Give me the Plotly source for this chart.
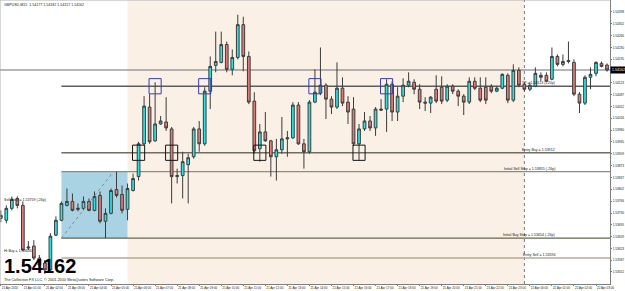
import plotly.graph_objects as go

# ---------------- data ----------------
opens = [1.53714,1.53708,1.53744,1.53774,1.53753,1.53624,1.53630,1.53594,1.53579,1.53558,
         1.53663,1.53708,1.53753,1.53765,1.53741,1.53744,1.53765,1.53738,1.53783,1.53705,
         1.53729,1.53801,1.53786,1.53741,1.53798,1.53840,1.53939,1.54050,1.53948,1.53999,
         1.54005,1.53984,1.53840,1.53843,1.53876,1.53900,1.53984,1.53939,1.54098,1.54176,
         1.54185,1.54239,1.54164,1.54200,1.54299,1.54203,1.54068,1.53924,1.53975,1.53948,
         1.53900,1.53921,1.53954,1.53957,1.54056,1.53939,1.53915,1.54065,1.54092,1.54116,
         1.54074,1.54050,1.54107,1.54065,1.54044,1.53939,1.53984,1.54008,1.53987,1.54044,
         1.54044,1.54119,1.54035,1.54083,1.54116,1.54125,1.54104,1.54065,1.54062,1.54104,
         1.54110,1.54071,1.54113,1.54098,1.54083,1.54065,1.54128,1.54107,1.54110,1.54113,
         1.54098,1.54107,1.54146,1.54071,1.54161,1.54119,1.54104,1.54113,1.54146,1.54146,
         1.54134,1.54203,1.54179,1.54191,1.54185,1.54089,1.54062,1.54140,1.54152,1.54182,
         1.54177]
highs = [1.53738,1.53753,1.53780,1.53780,1.53765,1.53645,1.53648,1.53603,1.53588,1.53669,
         1.53720,1.53765,1.53804,1.53789,1.53759,1.53780,1.53774,1.53795,1.53795,1.53744,
         1.53804,1.53855,1.53813,1.53819,1.53849,1.53945,1.54083,1.54089,1.54125,1.54023,
         1.54080,1.53990,1.53864,1.53915,1.53909,1.53990,1.54008,1.54110,1.54203,1.54278,
         1.54278,1.54248,1.54224,1.54329,1.54323,1.54218,1.54095,1.53999,1.54035,1.53951,
         1.53954,1.54020,1.53978,1.54065,1.54065,1.53954,1.54071,1.54164,1.54230,1.54122,
         1.54083,1.54185,1.54140,1.54083,1.54080,1.53999,1.54035,1.54023,1.54050,1.54074,
         1.54134,1.54128,1.54110,1.54137,1.54155,1.54134,1.54119,1.54080,1.54083,1.54146,
         1.54143,1.54119,1.54119,1.54104,1.54089,1.54140,1.54140,1.54140,1.54140,1.54119,
         1.54113,1.54152,1.54152,1.54179,1.54170,1.54125,1.54125,1.54170,1.54155,1.54155,
         1.54230,1.54209,1.54209,1.54248,1.54194,1.54095,1.54146,1.54170,1.54188,1.54188,
         1.54182]
lows = [1.53702,1.53699,1.53738,1.53744,1.53615,1.53618,1.53588,1.53564,1.53546,1.53549,
        1.53660,1.53705,1.53750,1.53735,1.53735,1.53738,1.53735,1.53735,1.53699,1.53654,
        1.53726,1.53777,1.53729,1.53708,1.53795,1.53828,1.53933,1.53939,1.53945,1.53996,
        1.53978,1.53759,1.53819,1.53774,1.53759,1.53894,1.53915,1.53933,1.54044,1.54155,
        1.54182,1.54155,1.54146,1.54194,1.54158,1.54059,1.53909,1.53885,1.53945,1.53840,
        1.53828,1.53909,1.53900,1.53954,1.53936,1.53864,1.53909,1.54062,1.54086,1.54014,
        1.54029,1.54044,1.54053,1.53999,1.53933,1.53888,1.53978,1.53978,1.53963,1.54038,
        1.53975,1.54008,1.54008,1.54065,1.54110,1.54089,1.54044,1.54038,1.54032,1.54062,
        1.54059,1.54065,1.54089,1.54053,1.54026,1.54059,1.54101,1.54065,1.54059,1.54092,
        1.54095,1.54104,1.54062,1.54065,1.54110,1.54098,1.54098,1.54110,1.54128,1.54125,
        1.54131,1.54173,1.54173,1.54182,1.54083,1.54032,1.54056,1.54104,1.54143,1.54170,
        1.54157]
closes = [1.53723,1.53744,1.53771,1.53753,1.53618,1.53627,1.53594,1.53573,1.53558,1.53660,
          1.53708,1.53759,1.53765,1.53738,1.53744,1.53765,1.53738,1.53780,1.53705,1.53729,
          1.53798,1.53783,1.53738,1.53804,1.53834,1.53939,1.54053,1.53945,1.53999,1.54008,
          1.53987,1.53840,1.53843,1.53885,1.53897,1.53984,1.53939,1.54098,1.54173,1.54188,
          1.54239,1.54164,1.54200,1.54299,1.54203,1.54065,1.53918,1.53975,1.53948,1.53900,
          1.53921,1.53954,1.53957,1.54056,1.53939,1.53915,1.54065,1.54095,1.54116,1.54074,
          1.54050,1.54107,1.54062,1.54035,1.53939,1.53984,1.54008,1.53987,1.54044,1.54041,
          1.54119,1.54035,1.54083,1.54116,1.54128,1.54104,1.54065,1.54062,1.54080,1.54068,
          1.54068,1.54113,1.54098,1.54083,1.54065,1.54128,1.54107,1.54071,1.54071,1.54098,
          1.54107,1.54149,1.54071,1.54161,1.54116,1.54104,1.54116,1.54152,1.54140,1.54128,
          1.54203,1.54179,1.54188,1.54188,1.54089,1.54062,1.54140,1.54149,1.54185,1.54173,
          1.54162]
bars = list(range(len(opens)))

time_tick_bars = [0, 4, 8, 12, 16, 20, 24, 28, 32, 36, 40, 44, 48, 52, 56, 60, 64, 68,
                  72, 76, 80, 84, 88, 92, 96, 100, 104, 108]
time_tick_labels = ["21 Apr 2010", "21 Apr 01:00", "21 Apr 02:00", "21 Apr 03:00", "21 Apr 04:00",
                    "21 Apr 05:00", "21 Apr 06:00", "21 Apr 07:00", "21 Apr 08:00", "21 Apr 09:00",
                    "21 Apr 10:00", "21 Apr 11:00", "21 Apr 12:00", "21 Apr 13:00", "21 Apr 14:00",
                    "21 Apr 15:00", "21 Apr 16:00", "21 Apr 17:00", "21 Apr 18:00", "21 Apr 19:00",
                    "21 Apr 20:00", "21 Apr 21:00", "21 Apr 22:00", "21 Apr 23:00", "22 Apr 00:00",
                    "22 Apr 01:00", "22 Apr 02:00", "22 Apr 03:00"]

price_ticks = [1.54338, 1.54302, 1.54266, 1.54230, 1.54195, 1.54123, 1.54087, 1.54052,
               1.54016, 1.53980, 1.53945, 1.53909, 1.53873, 1.53837, 1.53802, 1.53766,
               1.53730, 1.53695, 1.53659, 1.53623, 1.53587, 1.53552]

bid_price = 1.54162
level_prices = [1.54113, 1.53912, 1.53855, 1.53654, 1.53594]
level_labels = ["TP = 1.54113 (+20p)", "Entry Buy = 1.53912", "Initial Sell Stop = 1.53855 (-26p)",
                "Initial Buy Stop = 1.53654 (-26p)", "Entry Sell = 1.53594"]
level_colors = ["#5c5c5c", "#6e6e60", "#8c8c84", "#66664f", "#b9aa96"]
level_start_bar = 11
label_end_bar = 101

range_box_bars = [11, 23]
range_box_prices = [1.53654, 1.53855]
session_bars = [23, 95]
trend_bars = [11, 20.3]
trend_prices = [1.53654, 1.53852]

tp_hit_bars = [28, 37, 57, 70]
entry_hit_bars = [25, 31, 47, 65]

left_label_prices = [1.53759, 1.53606]
left_label_texts = ["Sell Stop = 1.53759 (-26p)", "Hi Buy = 1.53606"]

symbol_title = "GBPUSD,M15"
copyright_text = "The Collective FX LLC, \u00a9 2001-2010 MetaQuotes Software Corp."

# ---------------- figure ----------------
x_lo, x_hi = -0.145, 110.54
y_lo, y_hi = 1.535155, 1.543735
FONT = "Liberation Sans, Arial, sans-serif"

fig = go.Figure()
fig.add_trace(go.Candlestick(
    x=bars, open=opens, high=highs, low=lows, close=closes,
    increasing=dict(fillcolor="#26E6E6", line=dict(color="#3c3c3c", width=1)),
    decreasing=dict(fillcolor="#E07C78", line=dict(color="#3c3c3c", width=1)),
    whiskerwidth=0, hoverinfo="skip", showlegend=False,
))

fig.add_trace(go.Scatter(x=trend_bars, y=trend_prices, mode="lines",
                         line=dict(color="#8a8a8a", width=1, dash="dot"),
                         hoverinfo="skip", showlegend=False))

shapes = []
shapes.append(dict(type="rect", xref="x", yref="paper", x0=session_bars[0], x1=session_bars[1],
                   y0=0, y1=1, fillcolor="#FAF0E6", line=dict(width=0), layer="below"))
shapes.append(dict(type="rect", xref="x", yref="y", x0=range_box_bars[0], x1=range_box_bars[1],
                   y0=range_box_prices[0], y1=range_box_prices[1], fillcolor="#A9D3E3",
                   line=dict(width=0), layer="below"))
shapes.append(dict(type="line", xref="x", yref="paper", x0=session_bars[1], x1=session_bars[1],
                   y0=0, y1=1, line=dict(color="#7a7a7a", width=1, dash="dot"), layer="below"))
shapes.append(dict(type="line", xref="paper", yref="y", x0=0, x1=1, y0=bid_price, y1=bid_price,
                   line=dict(color="#6e6e6e", width=1), layer="below"))
for p, c in zip(level_prices, level_colors):
    shapes.append(dict(type="line", xref="x", yref="y", x0=level_start_bar, x1=x_hi, y0=p, y1=p,
                       line=dict(color=c, width=1.3), layer="below"))
half_w, half_h = 1.1, 0.00023
for b in tp_hit_bars:
    shapes.append(dict(type="rect", xref="x", yref="y", x0=b - half_w, x1=b + half_w,
                       y0=level_prices[0] - half_h, y1=level_prices[0] + half_h,
                       line=dict(color="#3b3bb0", width=1)))
for b in entry_hit_bars:
    shapes.append(dict(type="rect", xref="x", yref="y", x0=b - half_w, x1=b + half_w,
                       y0=level_prices[1] - half_h, y1=level_prices[1] + half_h,
                       line=dict(color="#151515", width=1)))
shapes.append(dict(type="line", xref="paper", yref="paper", x0=0, x1=1, y0=1, y1=1,
                   line=dict(color="#b0b0b0", width=1)))
shapes.append(dict(type="line", xref="paper", yref="paper", x0=0, x1=0, y0=0, y1=1,
                   line=dict(color="#b0b0b0", width=1)))

small = dict(family=FONT, size=3.6, color="#202020")
annotations = []
for p, t in zip(level_prices, level_labels):
    annotations.append(dict(x=label_end_bar, y=p, xref="x", yref="y", text=t, showarrow=False,
                            xanchor="right", yanchor="bottom", font=small, yshift=-1))
for p, t in zip(left_label_prices, left_label_texts):
    annotations.append(dict(x=0.004, y=p, xref="paper", yref="y", text=t, showarrow=False,
                            xanchor="left", yanchor="bottom", font=small, yshift=-1))
title_text = "%s  %.5f %.5f %.5f %.5f" % (symbol_title, opens[-1], highs[-1], lows[-1], closes[-1])
annotations.append(dict(x=0.004, y=0.995, xref="paper", yref="paper", text=title_text,
                        showarrow=False, xanchor="left", yanchor="top", font=small))
annotations.append(dict(x=1, y=bid_price, xref="paper", yref="y", text="%.5f" % bid_price,
                        showarrow=False, xanchor="left", yanchor="middle", bgcolor="#000000",
                        font=dict(family=FONT, size=3.6, color="#ffffff"), borderpad=1))
annotations.append(dict(x=0.003, y=0.064, xref="paper", yref="paper", text="<b>%.5f</b>" % closes[-1],
                        showarrow=False, xanchor="left", yanchor="middle",
                        font=dict(family=FONT, size=20, color="#000000")))
annotations.append(dict(x=0.004, y=0.0, xref="paper", yref="paper", text=copyright_text,
                        showarrow=False, xanchor="left", yanchor="bottom",
                        font=dict(family=FONT, size=3.8, color="#202020")))

fig.update_layout(
    width=625, height=291,
    margin=dict(l=0, r=15, t=0, b=7),
    paper_bgcolor="#ffffff", plot_bgcolor="#ffffff",
    shapes=shapes, annotations=annotations,
    showlegend=False,
    xaxis=dict(range=[x_lo, x_hi], rangeslider=dict(visible=False), showgrid=False, zeroline=False,
               tickvals=time_tick_bars, ticktext=time_tick_labels, ticks="outside", ticklen=1,
               tickcolor="#808080", ticklabelposition="outside right", tickangle=0,
               tickfont=dict(family=FONT, size=3.0, color="#202020"),
               showline=True, linecolor="#808080", linewidth=1, automargin=False, fixedrange=True),
    yaxis=dict(range=[y_lo, y_hi], side="right", showgrid=False, zeroline=False,
               tickvals=price_ticks, ticktext=["%.5f" % v for v in price_ticks],
               ticks="outside", ticklen=1, tickcolor="#808080",
               tickfont=dict(family=FONT, size=3.2, color="#202020"),
               showline=True, linecolor="#808080", linewidth=1, automargin=False, fixedrange=True),
)

fig.write_html("out.html")
